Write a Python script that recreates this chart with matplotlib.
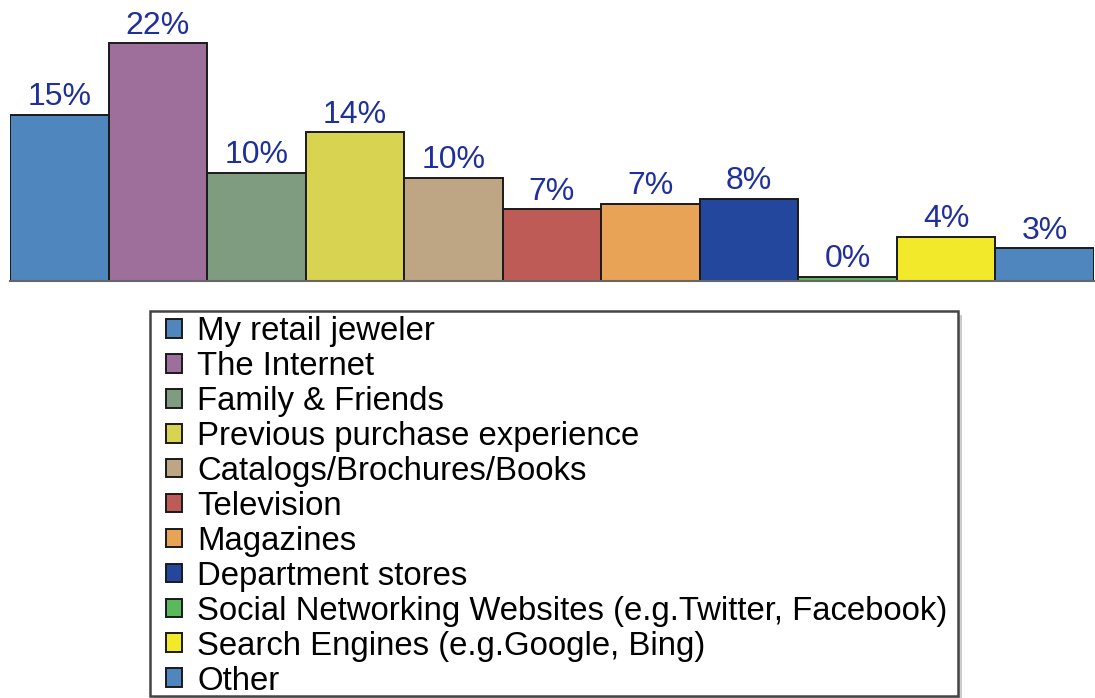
import matplotlib.pyplot as plt
import numpy as np
from matplotlib.patches import Rectangle

# survey: where respondents look for jewelry information
sources = ['My retail jeweler', 'The Internet', 'Family & Friends',
           'Previous purchase experience', 'Catalogs/Brochures/Books',
           'Television', 'Magazines', 'Department stores',
           'Social Networking Websites (e.g.Twitter, Facebook)',
           'Search Engines (e.g.Google, Bing)', 'Other']
shares = [15.3, 21.9, 10.0, 13.7, 9.5, 6.6, 7.1, 7.6, 0.4, 4.1, 3.0]
colors = ['#4f86bd', '#9e6f9a', '#7f9c80', '#d8d452', '#bea584', '#be5b57',
          '#e9a357', '#22479c', '#5cb85c', '#f2e92a', '#4f86bd']

plt.rcParams['font.family'] = ['Liberation Sans', 'DejaVu Sans']

W, H = 1095, 698
fig = plt.figure(figsize=(W / 100, H / 100), dpi=100)
ax = fig.add_axes([10 / W, 1 - 281 / H, 1084 / W, 281 / H])

x = np.arange(len(shares))
bars = ax.bar(x, shares, width=1.0, color=colors, edgecolor='#1a1a1a',
              linewidth=1.4, label=sources)

for b, v in zip(bars, shares):
    ax.text(b.get_x() + b.get_width() / 2, v + 0.25, f'{v:.0f}%',
            ha='center', va='bottom', fontsize=23, color='#1f2f9c')

ax.set_xlim(-0.5, len(shares) - 0.5)
ax.set_ylim(0, 25.9)
ax.set_xticks([])
ax.set_yticks([])
for side in ['top', 'left', 'right']:
    ax.spines[side].set_visible(False)
ax.spines['bottom'].set_color('#666666')
ax.spines['bottom'].set_linewidth(1.5)


def px_rect(x0, y0, x1, y1, **kw):
    # rectangle given in pixel coords measured from the top-left corner
    return Rectangle((x0 / W, 1 - y1 / H), (x1 - x0) / W, (y1 - y0) / H,
                     transform=fig.transFigure, **kw)


# legend box with a soft drop shadow
fig.add_artist(px_rect(154, 315, 962, 700, facecolor='#cccccc',
                       edgecolor='none', zorder=1))
fig.add_artist(px_rect(150, 311, 958, 696, facecolor='white',
                       edgecolor='#444444', linewidth=1.8, zorder=2))

leg = fig.legend(bars, sources, loc='upper left',
                 bbox_to_anchor=(166 / W, 1 - 316 / H),
                 fontsize=23.7, frameon=False,
                 handlelength=0.5, handleheight=0.5, handletextpad=0.45,
                 labelspacing=0.12, borderpad=0, borderaxespad=0)
leg.set_zorder(3)
for h in leg.legend_handles:
    h.set_edgecolor('#1a1a1a')

fig.savefig('out.png', dpi=100)
